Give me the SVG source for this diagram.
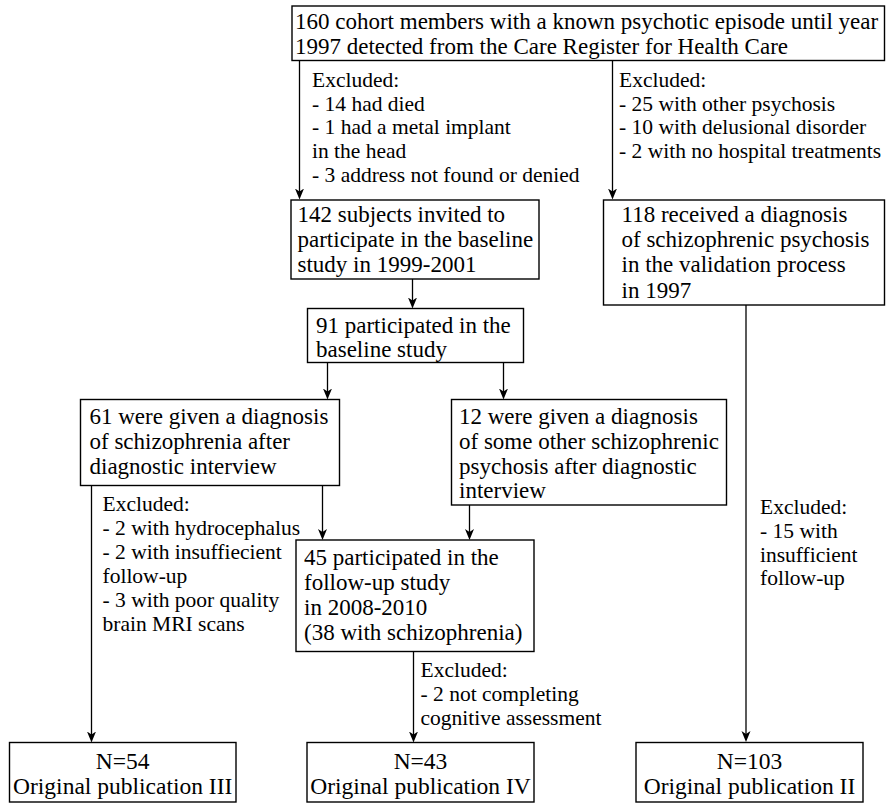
<svg xmlns="http://www.w3.org/2000/svg" width="886" height="804" viewBox="0 0 886 804">
<defs>
<style>
.box{fill:#fff;stroke:#000;stroke-width:1.4}
.t{font-family:"Liberation Serif","Times New Roman",serif;font-size:23px;fill:#000}
.e{font-family:"Liberation Serif","Times New Roman",serif;font-size:21.5px;fill:#000}
.c{text-anchor:middle;font-size:23.5px}
.ln{stroke:#000;stroke-width:1.3;fill:none}
.ar{marker-end:url(#arr)}
</style>
<marker id="arr" viewBox="0 0 11 10" refX="7" refY="5" markerWidth="11" markerHeight="10" markerUnits="userSpaceOnUse" orient="auto">
<path d="M0,0.5 L11,5 L0,9.5 L3,5 Z" fill="#000"/>
</marker>
</defs>
<rect width="886" height="804" fill="#fff"/>
<g id="connectors">
<line class="ln ar" x1="299.5" y1="60.5" x2="299.5" y2="195.5"/>
<line class="ln ar" x1="612.5" y1="60.5" x2="612.5" y2="195.5"/>
<line class="ln ar" x1="412.5" y1="279" x2="412.5" y2="304.5"/>
<line class="ln ar" x1="327.5" y1="362.5" x2="327.5" y2="395.5"/>
<line class="ln ar" x1="503.5" y1="362.5" x2="503.5" y2="395.5"/>
<line class="ln ar" x1="91.5" y1="485.5" x2="91.5" y2="738.5"/>
<line class="ln ar" x1="322.5" y1="485.5" x2="322.5" y2="536"/>
<line class="ln ar" x1="469.5" y1="505" x2="469.5" y2="536"/>
<line class="ln ar" x1="413.5" y1="651.5" x2="413.5" y2="738.5"/>
<line class="ln ar" x1="746" y1="305" x2="746" y2="738"/>
</g>
<g id="excl1">
<text class="e" x="312" y="87">Excluded:</text>
<text class="e" x="312" y="110.5">- 14 had died</text>
<text class="e" x="312" y="134">- 1 had a metal implant</text>
<text class="e" x="312" y="158">in the head</text>
<text class="e" x="312" y="181.5">- 3 address not found or denied</text>
</g>
<g id="excl2">
<text class="e" x="619" y="87">Excluded:</text>
<text class="e" x="619" y="110.5">- 25 with other psychosis</text>
<text class="e" x="619" y="134">- 10 with delusional disorder</text>
<text class="e" x="619" y="157.5">- 2 with no hospital treatments</text>
</g>
<g id="excl3">
<text class="e" x="102.5" y="510.5">Excluded:</text>
<text class="e" x="102.5" y="534.5">- 2 with hydrocephalus</text>
<text class="e" x="102.5" y="558.5">- 2 with insuffiecient</text>
<text class="e" x="102.5" y="582.5">follow-up</text>
<text class="e" x="102.5" y="606.5">- 3 with poor quality</text>
<text class="e" x="102.5" y="630.5">brain MRI scans</text>
</g>
<g id="excl4">
<text class="e" x="420.5" y="676.5">Excluded:</text>
<text class="e" x="420.5" y="700.5">- 2 not completing</text>
<text class="e" x="420.5" y="724.5">cognitive assessment</text>
</g>
<g id="excl5">
<text class="e" x="760" y="514">Excluded:</text>
<text class="e" x="760" y="537.5">- 15 with</text>
<text class="e" x="760" y="561.5">insufficient</text>
<text class="e" x="760" y="585">follow-up</text>
</g>
<g id="n160">
<rect class="box" x="292" y="6" width="592.5" height="54.5"/>
<text class="t" x="295" y="29">160 cohort members with a known psychotic episode until year</text>
<text class="t" x="295" y="54">1997 detected from the Care Register for Health Care</text>
</g>
<g id="n142">
<rect class="box" x="291" y="200" width="248" height="79"/>
<text class="t" x="297.5" y="222">142 subjects invited to</text>
<text class="t" x="297.5" y="247">participate in the baseline</text>
<text class="t" x="297.5" y="272">study in 1999-2001</text>
</g>
<g id="n118">
<rect class="box" x="603.5" y="200" width="281" height="105"/>
<text class="t" x="621.5" y="222">118 received a diagnosis</text>
<text class="t" x="621.5" y="247">of schizophrenic psychosis</text>
<text class="t" x="621.5" y="272">in the validation process</text>
<text class="t" x="621.5" y="297.5">in 1997</text>
</g>
<g id="n91">
<rect class="box" x="307.5" y="308.5" width="216" height="54"/>
<text class="t" x="316" y="333">91 participated in the</text>
<text class="t" x="316" y="357">baseline study</text>
</g>
<g id="n61">
<rect class="box" x="80.5" y="399.5" width="259" height="86"/>
<text class="t" x="89.5" y="424">61 were given a diagnosis</text>
<text class="t" x="89.5" y="449">of schizophrenia after</text>
<text class="t" x="89.5" y="474">diagnostic interview</text>
</g>
<g id="n12">
<rect class="box" x="451.5" y="399.5" width="275" height="105.5"/>
<text class="t" x="459" y="423.5">12 were given a diagnosis</text>
<text class="t" x="459" y="448.5">of some other schizophrenic</text>
<text class="t" x="459" y="473.5">psychosis after diagnostic</text>
<text class="t" x="459" y="498">interview</text>
</g>
<g id="n45">
<rect class="box" x="296" y="540" width="238" height="111.5"/>
<text class="t" x="304" y="565">45 participated in the</text>
<text class="t" x="304" y="590">follow-up study</text>
<text class="t" x="304" y="615">in 2008-2010</text>
<text class="t" x="304" y="640">(38 with schizophrenia)</text>
</g>
<g id="n54">
<rect class="box" x="9.5" y="742.5" width="226.5" height="59.5"/>
<text class="t c" x="122.7" y="769">N=54</text>
<text class="t c" x="122.7" y="794">Original publication III</text>
</g>
<g id="n43">
<rect class="box" x="307" y="742.5" width="227" height="59.5"/>
<text class="t c" x="420.5" y="769">N=43</text>
<text class="t c" x="420.5" y="794">Original publication IV</text>
</g>
<g id="n103">
<rect class="box" x="636" y="742.5" width="227" height="59.5"/>
<text class="t c" x="749.5" y="769">N=103</text>
<text class="t c" x="749.5" y="794">Original publication II</text>
</g>
</svg>
